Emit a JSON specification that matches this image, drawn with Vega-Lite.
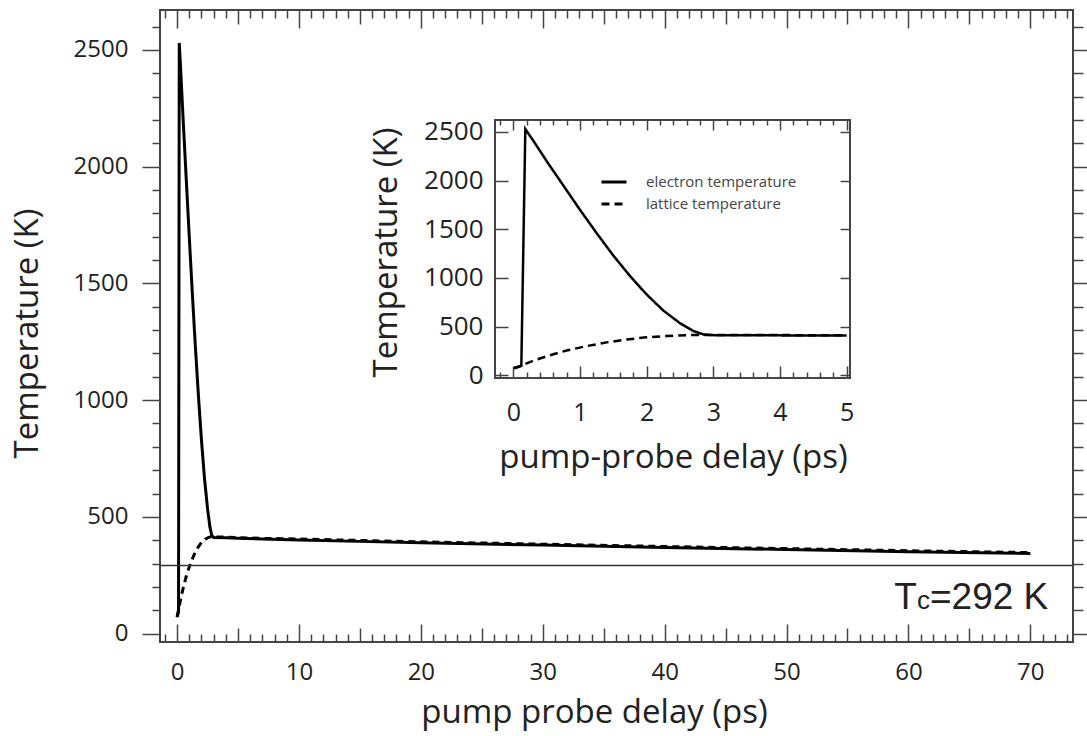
{
  "$schema": "https://vega.github.io/schema/vega-lite/v6.json",
  "width": 913,
  "height": 632,
  "autosize": {"type": "none"},
  "padding": {"left": 160, "top": 10, "right": 14, "bottom": 94},
  "background": "white",
  "config": {
    "view": {"stroke": "#444", "strokeWidth": 2},
    "font": "Open Sans",
    "axis": {"grid": false, "domain": false, "labelFlush": false, "labelOverlap": false, "tickColor": "#444", "tickWidth": 1.5, "labelColor": "#222", "titleColor": "#222", "titleFontWeight": "normal", "labelFont": "Open Sans", "titleFont": "Open Sans"}
  },
  "data": {"values": [
    {"t": 0, "T": 75, "series": "electron temperature"},
    {"t": 0.06, "T": 82, "series": "electron temperature"},
    {"t": 0.12, "T": 95, "series": "electron temperature"},
    {"t": 0.18, "T": 2530, "series": "electron temperature"},
    {"t": 0.3, "T": 2410, "series": "electron temperature"},
    {"t": 0.5, "T": 2200, "series": "electron temperature"},
    {"t": 0.75, "T": 1950, "series": "electron temperature"},
    {"t": 1.0, "T": 1700, "series": "electron temperature"},
    {"t": 1.25, "T": 1460, "series": "electron temperature"},
    {"t": 1.5, "T": 1230, "series": "electron temperature"},
    {"t": 1.75, "T": 1020, "series": "electron temperature"},
    {"t": 2.0, "T": 830, "series": "electron temperature"},
    {"t": 2.25, "T": 665, "series": "electron temperature"},
    {"t": 2.5, "T": 535, "series": "electron temperature"},
    {"t": 2.7, "T": 455, "series": "electron temperature"},
    {"t": 2.85, "T": 420, "series": "electron temperature"},
    {"t": 3.0, "T": 412, "series": "electron temperature"},
    {"t": 4, "T": 410, "series": "electron temperature"},
    {"t": 5, "T": 408, "series": "electron temperature"},
    {"t": 7, "T": 405, "series": "electron temperature"},
    {"t": 10, "T": 401, "series": "electron temperature"},
    {"t": 15, "T": 395, "series": "electron temperature"},
    {"t": 20, "T": 389, "series": "electron temperature"},
    {"t": 30, "T": 379, "series": "electron temperature"},
    {"t": 40, "T": 369, "series": "electron temperature"},
    {"t": 50, "T": 360, "series": "electron temperature"},
    {"t": 60, "T": 351, "series": "electron temperature"},
    {"t": 70, "T": 343, "series": "electron temperature"},
    {"t": 0, "T": 70, "series": "lattice temperature"},
    {"t": 0.1, "T": 95, "series": "lattice temperature"},
    {"t": 0.3, "T": 150, "series": "lattice temperature"},
    {"t": 0.5, "T": 195, "series": "lattice temperature"},
    {"t": 0.8, "T": 255, "series": "lattice temperature"},
    {"t": 1.1, "T": 300, "series": "lattice temperature"},
    {"t": 1.4, "T": 338, "series": "lattice temperature"},
    {"t": 1.7, "T": 368, "series": "lattice temperature"},
    {"t": 2.0, "T": 390, "series": "lattice temperature"},
    {"t": 2.3, "T": 404, "series": "lattice temperature"},
    {"t": 2.6, "T": 412, "series": "lattice temperature"},
    {"t": 2.8, "T": 415, "series": "lattice temperature"},
    {"t": 3.2, "T": 414, "series": "lattice temperature"},
    {"t": 4, "T": 413, "series": "lattice temperature"},
    {"t": 5, "T": 411, "series": "lattice temperature"},
    {"t": 7, "T": 408, "series": "lattice temperature"},
    {"t": 10, "T": 405, "series": "lattice temperature"},
    {"t": 15, "T": 399, "series": "lattice temperature"},
    {"t": 20, "T": 393, "series": "lattice temperature"},
    {"t": 30, "T": 383, "series": "lattice temperature"},
    {"t": 40, "T": 373, "series": "lattice temperature"},
    {"t": 50, "T": 364, "series": "lattice temperature"},
    {"t": 60, "T": 355, "series": "lattice temperature"},
    {"t": 70, "T": 347, "series": "lattice temperature"}
  ]},
  "layer": [
    {
      "layer": [
        {
          "transform": [{"filter": "datum.series === 'electron temperature'"}],
          "mark": {"type": "line", "color": "black", "strokeWidth": 3},
          "encoding": {
            "x": {"field": "t", "type": "quantitative",
              "scale": {"domain": [-1.4, 73.5], "nice": false, "zero": false},
              "axis": {"orient": "bottom",
                "values": [-1,0,1,2,3,4,5,6,7,8,9,10,11,12,13,14,15,16,17,18,19,20,21,22,23,24,25,26,27,28,29,30,31,32,33,34,35,36,37,38,39,40,41,42,43,44,45,46,47,48,49,50,51,52,53,54,55,56,57,58,59,60,61,62,63,64,65,66,67,68,69,70,71,72,73],
                "format": "d",
                "labelExpr": "datum.value % 10 === 0 ? datum.label : ''",
                "tickSize": {"expr": "datum.value % 10 === 0 ? -18 : (datum.value % 5 === 0 ? -14 : -8)"},
                "labelPadding": 36, "labelFontSize": 24,
                "title": "pump probe delay (ps)", "titleFontSize": 33,
                "titleX": 434, "titleY": 80, "titleBaseline": "alphabetic", "titleAlign": "center"}},
            "y": {"field": "T", "type": "quantitative",
              "scale": {"domain": [-36, 2671], "nice": false, "zero": false},
              "axis": {"orient": "left",
                "values": [0,100,200,300,400,500,600,700,800,900,1000,1100,1200,1300,1400,1500,1600,1700,1800,1900,2000,2100,2200,2300,2400,2500,2600],
                "format": "d",
                "labelExpr": "datum.value % 500 === 0 ? datum.label : ''",
                "tickSize": {"expr": "datum.value % 500 === 0 ? 18 : 8"},
                "labelPadding": 14, "labelFontSize": 24,
                "title": "Temperature (K)", "titleFontSize": 33,
                "titleX": -123, "titleY": 323, "titleBaseline": "alphabetic", "titleAlign": "center", "titleAngle": 270}}
          }
        },
        {
          "transform": [{"filter": "datum.series === 'lattice temperature'"}],
          "mark": {"type": "line", "color": "black", "strokeWidth": 3, "strokeDash": [7, 5]},
          "encoding": {
            "x": {"field": "t", "type": "quantitative",
              "scale": {"domain": [-1.4, 73.5], "nice": false, "zero": false},
              "axis": {"orient": "top",
                "values": [-1,0,1,2,3,4,5,6,7,8,9,10,11,12,13,14,15,16,17,18,19,20,21,22,23,24,25,26,27,28,29,30,31,32,33,34,35,36,37,38,39,40,41,42,43,44,45,46,47,48,49,50,51,52,53,54,55,56,57,58,59,60,61,62,63,64,65,66,67,68,69,70,71,72,73],
                "labels": false, "title": null,
                "tickSize": {"expr": "datum.value % 10 === 0 ? -18 : (datum.value % 5 === 0 ? -14 : -8)"}}},
            "y": {"field": "T", "type": "quantitative",
              "scale": {"domain": [-36, 2671], "nice": false, "zero": false},
              "axis": {"orient": "right",
                "values": [0,100,200,300,400,500,600,700,800,900,1000,1100,1200,1300,1400,1500,1600,1700,1800,1900,2000,2100,2200,2300,2400,2500,2600],
                "labels": false, "title": null,
                "tickSize": {"expr": "datum.value % 500 === 0 ? 14 : 10"}}}
          }
        },
        {
          "data": {"values": [{}]},
          "mark": {"type": "rule", "color": "#333", "strokeWidth": 1.5},
          "encoding": {"y": {"datum": 292, "type": "quantitative", "axis": null}}
        },
        {
          "data": {"values": [{}]},
          "mark": {"type": "text", "text": "T", "font": "Liberation Sans", "fontSize": 37, "align": "right", "baseline": "alphabetic", "color": "#222"},
          "encoding": {"x": {"datum": 60.7, "type": "quantitative", "axis": null}, "y": {"datum": 104, "type": "quantitative", "axis": null}}
        },
        {
          "data": {"values": [{}]},
          "mark": {"type": "text", "text": "c", "font": "Liberation Sans", "fontSize": 26, "align": "left", "baseline": "alphabetic", "color": "#222"},
          "encoding": {"x": {"datum": 60.7, "type": "quantitative", "axis": null}, "y": {"datum": 104, "type": "quantitative", "axis": null}}
        },
        {
          "data": {"values": [{}]},
          "mark": {"type": "text", "text": "=292 K", "font": "Liberation Sans", "fontSize": 37, "align": "left", "baseline": "alphabetic", "color": "#222", "dx": 13},
          "encoding": {"x": {"datum": 60.7, "type": "quantitative", "axis": null}, "y": {"datum": 104, "type": "quantitative", "axis": null}}
        }
      ],
      "resolve": {"axis": {"x": "independent", "y": "independent"}}
    },
    {
      "layer": [
        {
          "data": {"values": [{}]},
          "mark": {"type": "rect", "fill": "white", "stroke": "#444", "strokeWidth": 2},
          "encoding": {
            "x": {"datum": -0.275, "type": "quantitative",
              "scale": {"domain": [-0.275, 5.05], "range": [335, 690], "nice": false, "zero": false},
              "axis": {"orient": "top", "offset": -110, "zindex": 2,
                "values": [-0.2,0,0.2,0.4,0.6,0.8,1,1.2,1.4,1.6,1.8,2,2.2,2.4,2.6,2.8,3,3.2,3.4,3.6,3.8,4,4.2,4.4,4.6,4.8,5],
                "labels": false, "title": null,
                "tickSize": {"expr": "abs(datum.value - round(datum.value)) < 0.001 ? -10 : -5"}}},
            "x2": {"datum": 5.05},
            "y": {"datum": -28, "type": "quantitative",
              "scale": {"domain": [-28, 2623], "range": [368, 110], "nice": false, "zero": false},
              "axis": {"orient": "right", "offset": -223, "zindex": 2,
                "values": [0,500,1000,1500,2000,2500],
                "labels": false, "title": null, "tickSize": -10}},
            "y2": {"datum": 2623}
          }
        },
        {
          "transform": [{"filter": "datum.t <= 5"}],
          "mark": {"type": "line", "color": "black", "strokeWidth": 2.5},
          "encoding": {
            "x": {"field": "t", "type": "quantitative",
              "scale": {"domain": [-0.275, 5.05], "range": [335, 690], "nice": false, "zero": false},
              "axis": {"orient": "bottom", "offset": -264, "zindex": 2,
                "values": [-0.2,0,0.2,0.4,0.6,0.8,1,1.2,1.4,1.6,1.8,2,2.2,2.4,2.6,2.8,3,3.2,3.4,3.6,3.8,4,4.2,4.4,4.6,4.8,5],
                "labelExpr": "abs(datum.value - round(datum.value)) < 0.001 ? format(round(datum.value), 'd') : ''",
                "tickSize": {"expr": "abs(datum.value - round(datum.value)) < 0.001 ? -12 : -6"},
                "labelPadding": 34, "labelFontSize": 25,
                "title": "pump-probe delay (ps)", "titleFontSize": 33,
                "titleX": 513, "titleY": 89, "titleBaseline": "alphabetic", "titleAlign": "center"}},
            "y": {"field": "T", "type": "quantitative",
              "scale": {"domain": [-28, 2623], "range": [368, 110], "nice": false, "zero": false},
              "axis": {"orient": "left", "offset": -335, "zindex": 2,
                "values": [0,500,1000,1500,2000,2500],
                "format": "d", "tickSize": -13, "labelPadding": 25, "labelFontSize": 26,
                "title": "Temperature (K)", "titleFontSize": 33,
                "titleX": -99, "titleY": 242, "titleBaseline": "alphabetic", "titleAlign": "center", "titleAngle": 270}},
            "strokeDash": {"field": "series", "type": "nominal",
              "scale": {"domain": ["electron temperature", "lattice temperature"], "range": [[1, 0], [8, 5]]},
              "legend": {"orient": "none", "legendX": 440, "legendY": 158, "title": null, "padding": 0,
                "symbolType": "stroke", "symbolSize": 625, "symbolStrokeWidth": 3, "symbolStrokeColor": "black",
                "labelFont": "Open Sans", "labelFontSize": 15, "labelColor": "#444", "labelOffset": 18, "rowPadding": -6}}
          }
        }
      ],
      "resolve": {"axis": {"x": "independent", "y": "independent"}}
    }
  ],
  "resolve": {"scale": {"x": "independent", "y": "independent"}, "axis": {"x": "independent", "y": "independent"}}
}
